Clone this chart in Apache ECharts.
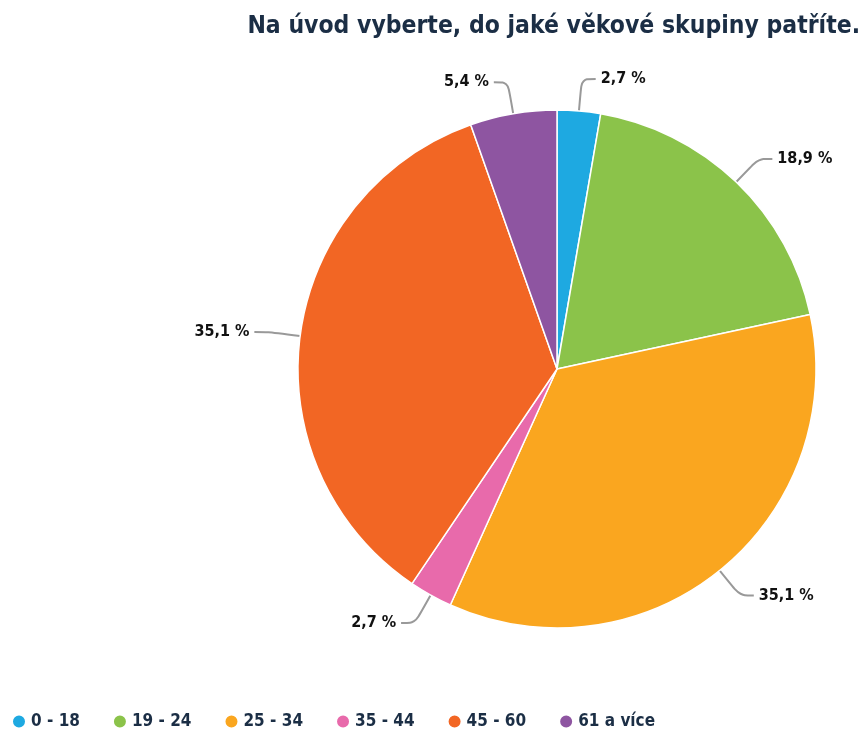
<!DOCTYPE html>
<html><head><meta charset="utf-8">
<script src="https://cdn.jsdelivr.net/npm/echarts@6/dist/echarts.min.js"></script>
<style>html,body{margin:0;padding:0;background:#fff}#c{width:867px;height:731px}</style>
</head><body><div id="c"></div>
<script>
const categories = ['0 - 18', '19 - 24', '25 - 34', '35 - 44', '45 - 60', '61 a více'];
const values = [2.7, 18.9, 35.1, 2.7, 35.1, 5.4];
const colors = ['#1ea9e1', '#8bc34a', '#faa61f', '#e86aab', '#f26624', '#8e55a1'];
const chart = echarts.init(document.getElementById('c'));
chart.setOption({
  animation: false,
  title: {
    text: 'Na úvod vyberte, do jaké věkové skupiny patříte.',
    right: 2, top: 9,
    textStyle: { fontFamily: 'DejaVu Sans Condensed', fontWeight: 'bold', fontSize: 24.5, color: '#1b2e45' }
  },
  legend: {
    left: 6, top: 708, icon: 'circle', itemWidth: 14, itemHeight: 14, itemGap: 32,
    textStyle: { fontFamily: 'DejaVu Sans Condensed', fontWeight: 'bold', fontSize: 17, color: '#1b2e45' },
    data: categories
  },
  series: [{
    type: 'pie',
    center: [557, 369],
    radius: [0, 259],
    startAngle: 90,
    clockwise: true,
    itemStyle: { borderColor: '#fff', borderWidth: 1.5 },
    label: {
      formatter: p => p.value.toFixed(1).replace('.', ',') + ' %',
      fontFamily: 'DejaVu Sans Condensed', fontWeight: 'bold', fontSize: 16, color: '#111'
    },
    labelLine: { length: 32, length2: 14, smooth: true, lineStyle: { color: '#999', width: 2 } },
    data: categories.map((c, i) => ({ name: c, value: values[i], itemStyle: { color: colors[i] } }))
  }]
});
</script></body></html>
